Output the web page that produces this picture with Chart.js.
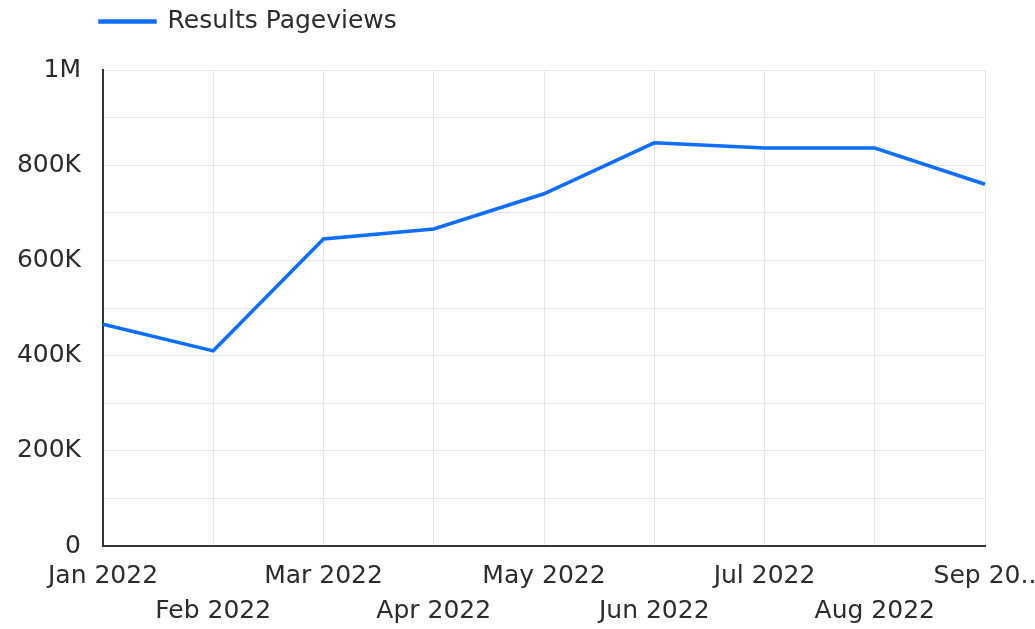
<!DOCTYPE html>
<html>
<head>
  <title>Results Pageviews</title>
  <script src="https://cdn.jsdelivr.net/npm/chart.js"></script>
  <style>
    body { margin: 0; background: #fff; }
    #wrap { width: 1035px; height: 629px; }
  </style>
</head>
<body>
  <div id="wrap"><canvas id="pvChart"></canvas></div>

  <script>
    const months = ['Jan 2022', 'Feb 2022', 'Mar 2022', 'Apr 2022', 'May 2022',
                    'Jun 2022', 'Jul 2022', 'Aug 2022', 'Sep 2022'];
    const monthLabels = ['Jan 2022', 'Feb 2022', 'Mar 2022', 'Apr 2022', 'May 2022',
                         'Jun 2022', 'Jul 2022', 'Aug 2022', 'Sep 20..'];
    const pageviews = [466000, 410000, 645000, 666000, 740000, 847000, 836000, 836000, 760000];

    const textColor = '#2b2b2b';
    const lineColor = '#0d6efd';

    // move the legend up and over so it sits above the y axis
    const legendShift = {
      id: 'legendShift',
      afterLayout(chart) {
        chart.legend.left = 90;
        chart.legend.top -= 26;
      }
    };

    Chart.defaults.font.family = '"DejaVu Sans", sans-serif';
    Chart.defaults.color = textColor;

    const ctx = document.getElementById('pvChart').getContext('2d');
    new Chart(ctx, {
      type: 'line',
      data: {
        labels: months,
        datasets: [{
          label: 'Results Pageviews',
          data: pageviews,
          borderColor: lineColor,
          backgroundColor: lineColor,
          borderWidth: 3.5,
          pointRadius: 0,
          tension: 0
        }]
      },
      options: {
        responsive: true,
        maintainAspectRatio: false,
        animation: false,
        layout: { padding: { top: 25, right: 0, left: 0, bottom: 1 } },
        plugins: {
          legend: {
            align: 'start',
            labels: {
              boxWidth: 55,
              boxHeight: 1,
              font: { size: 25 },
              padding: 10
            }
          },
          tooltip: { enabled: false }
        },
        scales: {
          x: {
            offset: false,
            grid: { color: '#e6e6e6', drawTicks: false },
            border: { color: '#333', width: 2 },
            ticks: {
              autoSkip: false,
              maxRotation: 0,
              padding: 13,
              font: { size: 25, lineHeight: 1.4 },
              callback: (val, i) => i % 2 ? ['', monthLabels[i]] : monthLabels[i]
            },
            afterFit: s => {
              s.paddingLeft = 0;
              s.paddingRight = 50;
              s.height = 82;
            }
          },
          y: {
            min: 0,
            max: 1000000,
            grid: { color: '#e6e6e6', drawTicks: false },
            border: { color: '#333', width: 2 },
            ticks: {
              stepSize: 100000,
              padding: 22,
              font: { size: 25 },
              callback: v => {
                if (v % 200000 !== 0) return '';
                if (v === 0) return '0';
                if (v === 1000000) return '1M';
                return (v / 1000) + 'K';
              }
            },
            afterFit: s => {
              s.width = 103;
            }
          }
        }
      },
      plugins: [legendShift]
    });
  </script>
</body>
</html>
